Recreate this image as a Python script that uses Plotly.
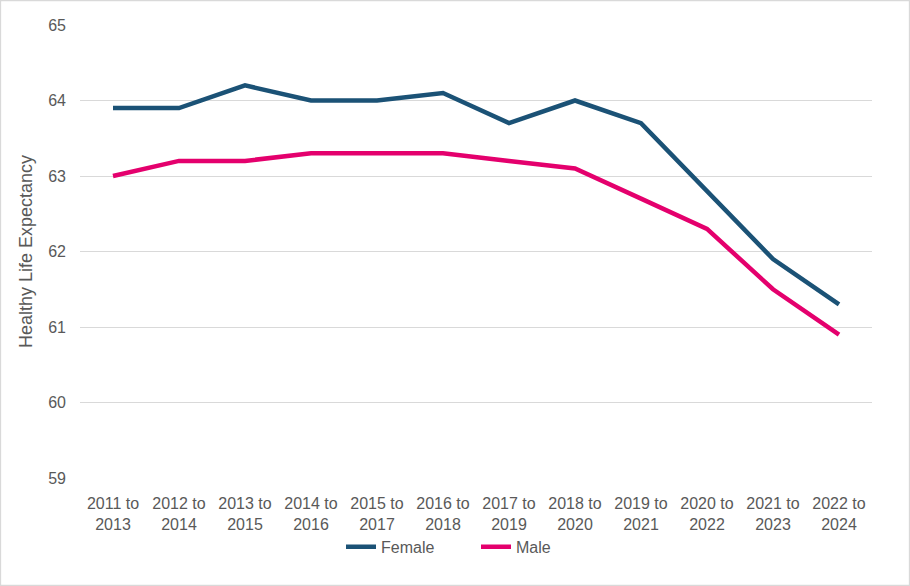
import plotly.graph_objects as go

categories = ["2011 to<br>2013", "2012 to<br>2014", "2013 to<br>2015", "2014 to<br>2016",
              "2015 to<br>2017", "2016 to<br>2018", "2017 to<br>2019", "2018 to<br>2020",
              "2019 to<br>2021", "2020 to<br>2022", "2021 to<br>2023", "2022 to<br>2024"]
female = [63.9, 63.9, 64.2, 64.0, 64.0, 64.1, 63.7, 64.0, 63.7, 62.8, 61.9, 61.3]
male = [63.0, 63.2, 63.2, 63.3, 63.3, 63.3, 63.2, 63.1, 62.7, 62.3, 61.5, 60.9]
y_ticks = [59, 60, 61, 62, 63, 64, 65]

W, H = 910, 586
ml, mr, mt, mb = 80, 38, 25, 108
pw, ph = W - ml - mr, H - mt - mb

font_family = "Liberation Sans, Arial, sans-serif"
grey = "#595959"

fig = go.Figure()
fig.add_trace(go.Scatter(x=list(range(len(categories))), y=female, mode="lines", name="Female",
                         line=dict(color="#1B5276", width=4.5)))
fig.add_trace(go.Scatter(x=list(range(len(categories))), y=male, mode="lines", name="Male",
                         line=dict(color="#E4006D", width=4.5)))

fig.update_layout(
    width=W, height=H,
    margin=dict(l=ml, r=mr, t=mt, b=mb, autoexpand=False),
    paper_bgcolor="white", plot_bgcolor="white",
    font=dict(family=font_family, size=16, color=grey),
    showlegend=True,
    legend=dict(orientation="h", x=0.5, xanchor="center", y=-0.152, yanchor="middle",
                font=dict(size=16, color=grey), traceorder="normal",
                entrywidth=90, entrywidthmode="pixels"),
    xaxis=dict(tickmode="array", tickvals=list(range(len(categories))), ticktext=categories,
               range=[-0.5, len(categories) - 0.5], showgrid=False, zeroline=False,
               showline=False, ticks="", ticklabelstandoff=14,
               tickfont=dict(size=16, color=grey)),
    yaxis=dict(range=[59, 65], tickvals=y_ticks, showgrid=True, gridcolor="#D9D9D9",
               gridwidth=1.3, zeroline=False, showline=False, ticks="",
               ticklabelstandoff=13, tickfont=dict(size=16, color=grey),
               title=dict(text="Healthy Life Expectancy", font=dict(size=18, color=grey),
                          standoff=10)),
    shapes=[dict(type="rect", xref="paper", yref="paper",
                 x0=(0.5 - ml) / pw, x1=(W - 0.5 - ml) / pw,
                 y0=(ph + mt - (H - 0.5)) / ph, y1=(ph + mt - 0.5) / ph,
                 line=dict(color="#D9D9D9", width=1.3), fillcolor="rgba(0,0,0,0)", layer="below")],
)

fig.write_html("out.html", config={"displayModeBar": False},
               post_script="document.body.style.margin='0';")
